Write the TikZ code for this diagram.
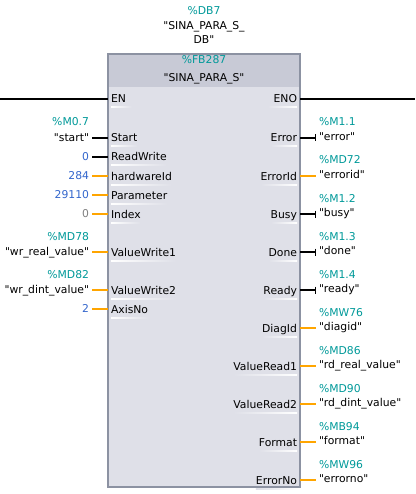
\documentclass[tikz,border=0pt]{standalone}
\usepackage{fontspec}
\setmainfont{DejaVu Sans}[Ligatures=TeXOff]
\usetikzlibrary{arrows.meta,calc}
\definecolor{teal1}{RGB}{0,153,153}
\definecolor{blue1}{RGB}{51,102,204}
\definecolor{gray1}{RGB}{128,128,128}
\definecolor{orangew}{RGB}{255,165,0}
\definecolor{bodycol}{RGB}{223,224,232}
\definecolor{headcol}{RGB}{200,202,214}
\definecolor{bordercol}{RGB}{140,146,162}
\tikzset{
  wireB/.style={line width=1.4pt, black},
  wireO/.style={line width=1.4pt, orangew},
  rail/.style={line width=2.6pt, black},
}
\newcommand\lpin[7]{%
  \node[anchor=base west] (n#1) at (111,#2+4) {#3};
  \shade[left color=white,right color=bodycol] ($(n#1.base west)+(0,4)$) rectangle ($(n#1.base east)+(0,5)$);
  \coordinate (s#1) at (92,#2);
  \coordinate (e#1) at (108,#2);
  \draw[#4] (s#1) -- (e#1);
  \node[anchor=base east,text=#7] (l#1) at (89,#2+3.5) {#6};
  \ifx\relax#5\relax\else\node[anchor=base east,text=teal1] (a#1) at (89,#2-12) {#5};\fi
}
\newcommand\rpin[6]{%
  \node[anchor=base east] (n#1) at (297,#2+4) {#3};
  \shade[left color=bodycol,right color=white] ($(n#1.base west)+(0,4)$) rectangle ($(n#1.base east)+(0,5)$);
  \coordinate (s#1) at (300,#2);
  \coordinate (e#1) at (316,#2);
  \draw[#4] (s#1) -- (e#1);
  \node[anchor=base west] (l#1) at (319,#2+2.5) {#6};
  \node[anchor=base west,text=teal1] (a#1) at (319,#2-12) {#5};
}
\begin{document}
\begin{tikzpicture}[x=1pt,y=-1pt,font=\fontsize{10.8}{12}\selectfont,inner sep=0pt,outer sep=0pt]
\useasboundingbox (0,0) rectangle (415,494);
% instance DB
\node[anchor=base,text=teal1] (dbno) at (204,15) {\%DB7};
\node[anchor=base] (dbn1) at (204,30) {"SINA\_PARA\_S\_};
\node[anchor=base] (dbn2) at (204,44) {DB"};
% block
\node[fill=bodycol,minimum width=192pt,minimum height=433pt,anchor=north west] (fb) at (108,54) {};
\node[fill=headcol,minimum width=192pt,minimum height=33pt,anchor=north west] (hdr) at (108,54) {};
\draw[bordercol,line width=2pt] (fb.north west) rectangle (fb.south east);
\node[anchor=base,text=teal1] (fbno) at (204,64) {\%FB287};
\node[anchor=base] (fbname) at (204,82) {"SINA\_PARA\_S"};
% EN / ENO
\coordinate (enL) at (0,99);
\coordinate (enR) at (108,99);
\coordinate (enoL) at (300,99);
\coordinate (enoR) at (415,99);
\draw[rail] (enL) -- (enR);
\draw[rail] (enoL) -- (enoR);
\node[anchor=base west] (en) at (111,103) {EN};
\shade[left color=white,right color=bodycol] ($(en.base west)+(0,4)$) rectangle ($(en.base east)+(6,5)$);
\node[anchor=base east] (eno) at (297,103) {ENO};
\shade[left color=bodycol,right color=white] ($(eno.base west)+(-6,4)$) rectangle ($(eno.base east)+(0,5)$);
% inputs
\lpin{i1}{138}{Start}{wireB}{\%M0.7}{"start"}{black}
\lpin{i2}{157}{ReadWrite}{wireB}{}{0}{blue1}
\lpin{i3}{176}{hardwareId}{wireO}{}{284}{blue1}
\lpin{i4}{195}{Parameter}{wireO}{}{29110}{blue1}
\lpin{i5}{214}{Index}{wireO}{}{0}{gray1}
\lpin{i6}{252}{ValueWrite1}{wireO}{\%MD78}{"wr\_real\_value"}{black}
\lpin{i7}{290}{ValueWrite2}{wireO}{\%MD82}{"wr\_dint\_value"}{black}
\lpin{i8}{309}{AxisNo}{wireO}{}{2}{blue1}
% outputs
\rpin{o1}{138}{Error}{wireB,-{Bar[width=7pt]}}{\%M1.1}{"error"}
\rpin{o2}{176}{ErrorId}{wireO}{\%MD72}{"errorid"}
\rpin{o3}{214}{Busy}{wireB,-{Bar[width=7pt]}}{\%M1.2}{"busy"}
\rpin{o4}{252}{Done}{wireB,-{Bar[width=7pt]}}{\%M1.3}{"done"}
\rpin{o5}{290}{Ready}{wireB,-{Bar[width=7pt]}}{\%M1.4}{"ready"}
\rpin{o6}{328}{DiagId}{wireO}{\%MW76}{"diagid"}
\rpin{o7}{366}{ValueRead1}{wireO}{\%MD86}{"rd\_real\_value"}
\rpin{o8}{404}{ValueRead2}{wireO}{\%MD90}{"rd\_dint\_value"}
\rpin{o9}{442}{Format}{wireO}{\%MB94}{"format"}
\rpin{o10}{480}{ErrorNo}{wireO}{\%MW96}{"errorno"}
\end{tikzpicture}
\end{document}
